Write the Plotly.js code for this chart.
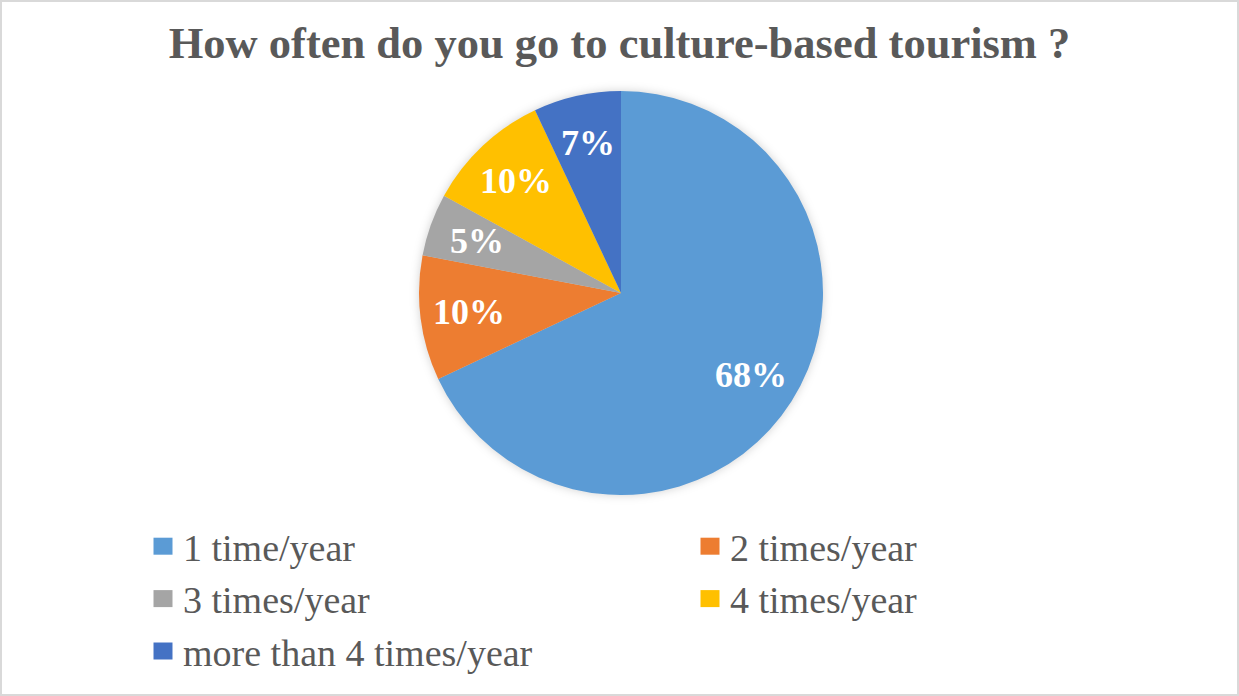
<!DOCTYPE html>
<html>
<head>
<meta charset="utf-8">
<script src="https://cdn.plot.ly/plotly-3.0.1.min.js"></script>
<style>
  html, body { margin: 0; padding: 0; background: #ffffff; }
  #chart { width: 1239px; height: 696px; box-sizing: border-box; border: 2px solid #d9d9d9; }
  .pielayer { filter: drop-shadow(0px 0px 5px rgba(0,0,0,0.18)); }
</style>
</head>
<body>
<div id="chart"></div>
<script>
const categories = ["1 time/year", "2 times/year", "3 times/year", "4 times/year", "more than 4 times/year"];
const shares = [68, 10, 5, 10, 7];
const sliceColors = ["#5B9BD5", "#ED7D31", "#A5A5A5", "#FFC000", "#4472C4"];
const chartTitle = "How often do you go to culture-based tourism ?";

const W = 1235, H = 692;
const cx = 619, cy = 291, r = 202;
const serif = "Liberation Serif, Times New Roman, serif";

const total = shares.reduce((a, b) => a + b, 0);
const labelAnnotations = [];
let cum = 0;
shares.forEach((v, i) => {
  const mid = (cum + v / 2) / total * 2 * Math.PI;
  cum += v;
  const rr = 0.76 * r;
  labelAnnotations.push({
    xref: "paper", yref: "paper",
    x: (cx + rr * Math.sin(mid)) / W,
    y: 1 - (cy - rr * Math.cos(mid)) / H,
    xanchor: "center", yanchor: "middle",
    showarrow: false,
    text: "<b>" + Math.round(v / total * 100) + "%</b>",
    font: { family: serif, size: 36, color: "#ffffff" }
  });
});

const data = [{
  type: "pie",
  labels: categories,
  values: shares,
  sort: false,
  direction: "clockwise",
  rotation: 0,
  marker: { colors: sliceColors, line: { width: 0 } },
  textinfo: "none",
  hoverinfo: "label+percent",
  domain: { x: [(cx - r) / W, (cx + r) / W], y: [(H - cy - r) / H, (H - cy + r) / H] }
}];

const layout = {
  width: W,
  height: H,
  margin: { l: 0, r: 0, t: 0, b: 0 },
  paper_bgcolor: "#ffffff",
  title: {
    text: "<b>" + chartTitle + "</b>",
    font: { family: serif, size: 44.5, color: "#595959" },
    x: 0.5, xanchor: "center",
    y: 1 - 40 / H, yanchor: "middle", yref: "paper"
  },
  annotations: labelAnnotations,
  showlegend: true,
  legend: {
    orientation: "h",
    x: 141 / W, xanchor: "left",
    y: 1 - 513 / H, yanchor: "top",
    entrywidth: 502, entrywidthmode: "pixels",
    font: { family: serif, size: 38, color: "#595959" },
    traceorder: "normal",
    itemclick: false, itemdoubleclick: false
  }
};

Plotly.newPlot("chart", data, layout, { displayModeBar: false, responsive: false }).then(() => {
  document.querySelectorAll("path.legendpie").forEach(p => p.setAttribute("d", "M9.5,8.5H-9.5V-8.5H9.5Z"));
});
</script>
</body>
</html>
